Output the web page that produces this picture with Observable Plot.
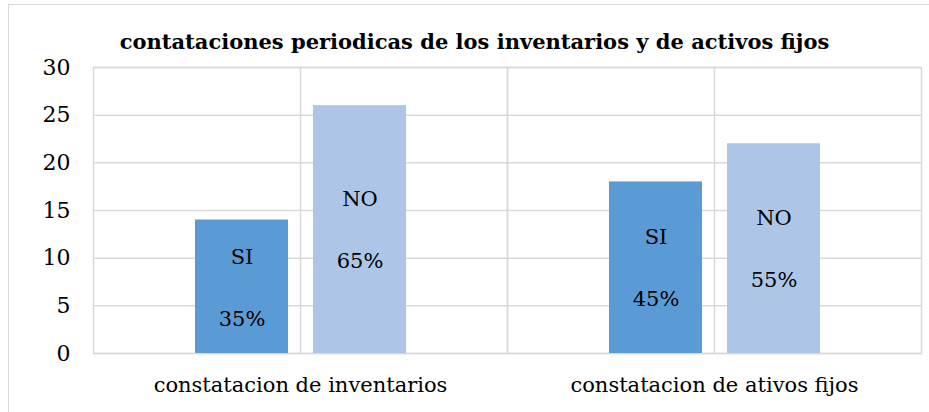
<!DOCTYPE html>
<html>
<head>
<meta charset="utf-8">
<script src="https://cdn.jsdelivr.net/npm/d3@7"></script>
<script src="https://cdn.jsdelivr.net/npm/@observablehq/plot@0.6"></script>
<style>
  html, body { margin: 0; padding: 0; background: #fff; }
  #wrap { position: relative; width: 929px; height: 412px; overflow: hidden; }
  #frame { position: absolute; left: 8px; top: 4px; width: 940px; height: 430px; border: 1px solid #d9d9d9; box-sizing: border-box; pointer-events: none; }
  #title { position: absolute; left: 10px; top: 26px; width: 929px; text-align: center;
           font-family: "DejaVu Serif", serif; font-weight: bold; font-size: 21px; color: #000; line-height: 32px; }
  #chart { position: absolute; left: 0; top: 0; }
  #chart svg, #chart svg text { font-family: "DejaVu Serif", serif !important; }
</style>
</head>
<body>
<div id="wrap">
  <div id="frame"></div>
  <div id="chart"></div>
  <div id="title">contataciones periodicas de los inventarios y de activos fijos</div>
</div>
<script>
const categories = ["constatacion de inventarios", "constatacion de ativos fijos"];
const series = ["SI", "NO"];
const siValues = [14, 18];
const noValues = [26, 22];
const siPercents = ["35%", "45%"];
const noPercents = ["65%", "55%"];
const yTicks = [0, 5, 10, 15, 20, 25, 30];

const data = [];
categories.forEach((c, i) => {
  data.push({category: c, series: "SI", value: siValues[i], pct: siPercents[i]});
  data.push({category: c, series: "NO", value: noValues[i], pct: noPercents[i]});
});

const chart = Plot.plot({
  width: 929,
  height: 412,
  marginTop: 67,
  marginBottom: 59,
  marginLeft: 93,
  marginRight: 8,
  style: {fontSize: "22px", color: "#000", background: "transparent"},
  fx: {domain: categories, padding: 0},
  x: {domain: series, paddingInner: 0.212, paddingOuter: 0.86, axis: null},
  y: {domain: [0, 30], ticks: yTicks, label: null, tickSize: 0, tickPadding: 23},
  color: {domain: series, range: ["#5b9bd5", "#adc6e7"]},
  marks: [
    Plot.gridY(yTicks, {stroke: "#d9d9d9", strokeOpacity: 1, strokeWidth: 1.5}),
    Plot.gridFx({stroke: "#d9d9d9", strokeOpacity: 1, strokeWidth: 1.5}),
    Plot.frame({stroke: "#d9d9d9", strokeWidth: 1.5}),
    Plot.axisFx({anchor: "bottom", label: null, tickSize: 0, tickPadding: 24, fontSize: 21}),
    Plot.barY(data, {fx: "category", x: "series", y: "value", fill: "series"}),
    Plot.text(data, {fx: "category", x: "series", y: d => d.value / 2, text: "series", dy: -30, fontSize: 21, fill: "#000"}),
    Plot.text(data, {fx: "category", x: "series", y: d => d.value / 2, text: "pct", dy: 32, fontSize: 21, fill: "#000"})
  ]
});
document.getElementById("chart").appendChild(chart);
</script>
</body>
</html>
